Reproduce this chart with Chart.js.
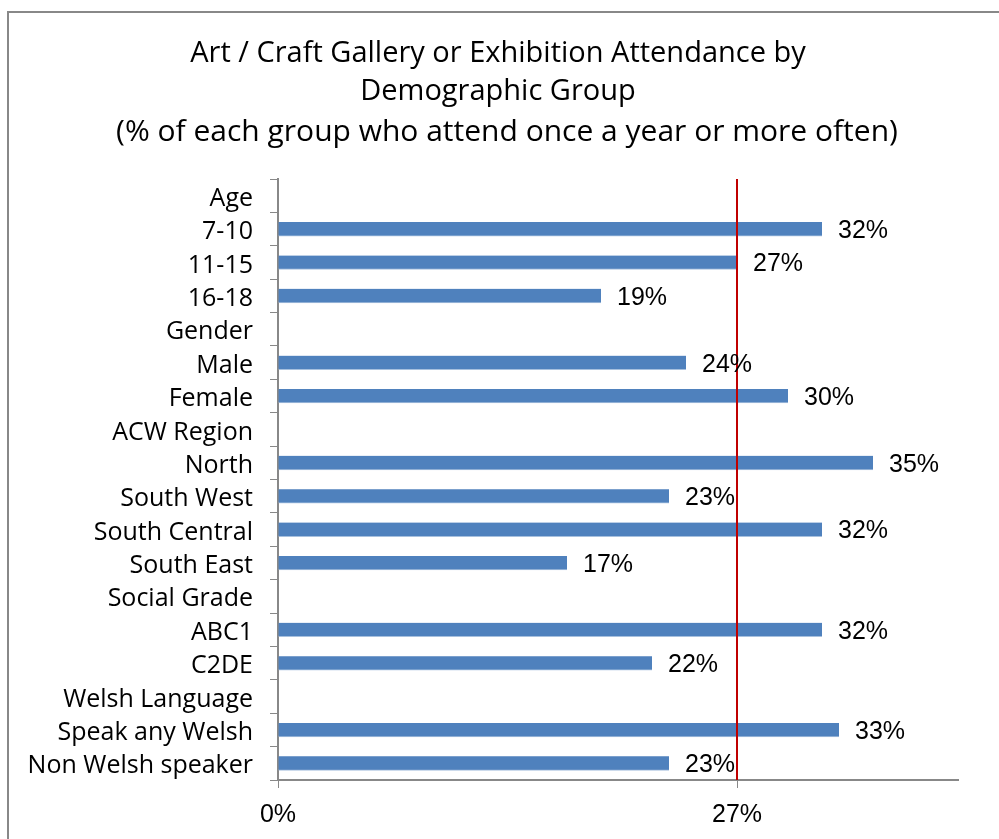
<!DOCTYPE html>
<html>
<head>
<meta charset="utf-8">
<script src="https://cdn.jsdelivr.net/npm/chart.js@4"></script>
<style>
  html, body { margin: 0; padding: 0; background: #fff; }
  #wrap { width: 999px; height: 839px; position: relative; }
</style>
</head>
<body>
<div id="wrap"><canvas id="attendance"></canvas></div>
<script>
// groups with their section headings (headings have no bar)
const groups = [
  'Age', '7-10', '11-15', '16-18',
  'Gender', 'Male', 'Female',
  'ACW Region', 'North', 'South West', 'South Central', 'South East',
  'Social Grade', 'ABC1', 'C2DE',
  'Welsh Language', 'Speak any Welsh', 'Non Welsh speaker'
];
const attendance = [
  null, 32, 27, 19,
  null, 24, 30,
  null, 35, 23, 32, 17,
  null, 32, 22,
  null, 33, 23
];
const average = 27;
const axisTicks = [0, 27];

const titleLines = ['Art / Craft Gallery or Exhibition Attendance by', 'Demographic Group'];
const subtitleText = '(% of each group who attend once a year or more often)';

const labelFont = '"Open Sans", sans-serif';
const numberFont = '"Liberation Sans", Arial, sans-serif';

// heading block drawn above the plot
const heading = {
  id: 'heading',
  afterDraw(chart) {
    const ctx = chart.ctx;
    ctx.save();
    ctx.fillStyle = '#000';
    ctx.textAlign = 'center';
    ctx.textBaseline = 'middle';
    ctx.font = '29px ' + labelFont;
    ctx.fillText(titleLines[0], 498, 54);
    ctx.fillText(titleLines[1], 498, 92);
    ctx.font = '30px ' + labelFont;
    ctx.fillText(subtitleText, 507, 132);
    ctx.restore();
  }
};

// value labels to the right of each bar, plus the red average line
const extras = {
  id: 'extras',
  afterDatasetsDraw(chart) {
    const ctx = chart.ctx;
    const x = chart.scales.x;
    const area = chart.chartArea;
    const avgX = Math.round(x.getPixelForValue(average));
    ctx.save();
    ctx.strokeStyle = '#C00000';
    ctx.lineWidth = 2;
    ctx.beginPath();
    ctx.moveTo(avgX, area.top);
    ctx.lineTo(avgX, area.bottom);
    ctx.stroke();

    ctx.fillStyle = '#000';
    ctx.font = '25px ' + numberFont;
    ctx.textAlign = 'left';
    ctx.textBaseline = 'middle';
    chart.getDatasetMeta(0).data.forEach((bar, i) => {
      const v = attendance[i];
      if (v === null) return;
      ctx.fillText(v + '%', bar.x + 16, bar.y + 2);
    });
    ctx.restore();
  }
};

// thin grey frame round the whole chart
const frame = {
  id: 'frame',
  beforeDraw(chart) {
    const ctx = chart.ctx;
    ctx.save();
    ctx.strokeStyle = '#888';
    ctx.lineWidth = 2;
    ctx.strokeRect(8, 12, chart.width + 20, chart.height + 20);
    ctx.restore();
  }
};

new Chart(document.getElementById('attendance'), {
  type: 'bar',
  data: {
    labels: groups,
    datasets: [{
      data: attendance,
      backgroundColor: '#4F81BD',
      borderColor: '#A7C0DE',
      borderWidth: { top: 0, left: 0, right: 0, bottom: 1 },
      borderSkipped: false,
      barThickness: 14
    }]
  },
  options: {
    indexAxis: 'y',
    responsive: true,
    maintainAspectRatio: false,
    animation: false,
    layout: { padding: { left: 0, right: 41, top: 179, bottom: 0 } },
    plugins: {
      legend: { display: false },
      tooltip: { enabled: false },
      title: { display: false }
    },
    scales: {
      x: {
        min: 0,
        max: 40,
        afterBuildTicks(scale) {
          scale.ticks = axisTicks.map(v => ({ value: v }));
        },
        afterFit(scale) { scale.height = 59; },
        grid: { drawOnChartArea: false, drawTicks: true, tickLength: 8, color: '#888' },
        border: { color: '#888', width: 2 },
        ticks: {
          color: '#000',
          padding: 12,
          maxRotation: 0,
          font: { family: numberFont, size: 25 },
          callback: v => v + '%'
        }
      },
      y: {
        afterFit(scale) { scale.width = 278; },
        grid: { drawOnChartArea: false, drawTicks: true, tickLength: 8, color: '#888', offset: true },
        border: { color: '#888', width: 2 },
        ticks: {
          color: '#000',
          padding: 17,
          labelOffset: 3,
          autoSkip: false,
          font: { family: labelFont, size: 25 }
        }
      }
    }
  },
  plugins: [frame, extras, heading]
});
</script>
</body>
</html>
